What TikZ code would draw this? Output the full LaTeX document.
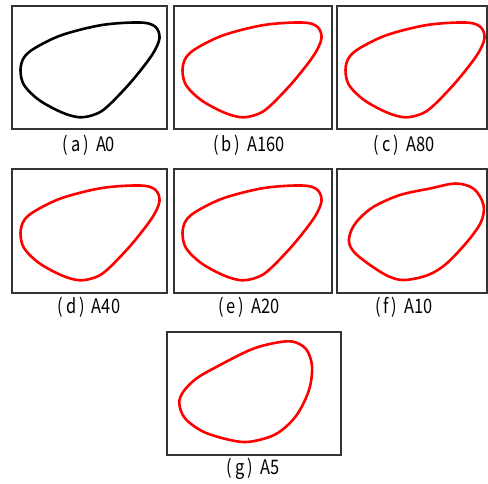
\documentclass[tikz,border=0pt]{standalone}
\usepackage{fontspec}
\newfontfamily\krfont{Noto Sans CJK KR}
\begin{document}
\begin{tikzpicture}[x=1pt,y=-1pt,
  panel/.style={draw=black!80,line width=1.1pt},
  curvea/.style={line width=2.6pt,line join=round},
  lbl/.style={font=\krfont\fontsize{20}{20}\selectfont,inner sep=0pt,anchor=center}]
\useasboundingbox (0,0) rectangle (488,483);
% boxes
\node[panel,minimum width=155pt,minimum height=123pt,inner sep=0pt] (pa) at (89.5,67.5) {};
\node[panel,minimum width=158pt,minimum height=123pt,inner sep=0pt] (pb) at (253,67.5) {};
\node[panel,minimum width=150pt,minimum height=123pt,inner sep=0pt] (pc) at (412,67.5) {};
\node[panel,minimum width=155pt,minimum height=124pt,inner sep=0pt] (pd) at (89.5,231) {};
\node[panel,minimum width=158pt,minimum height=124pt,inner sep=0pt] (pe) at (253,231) {};
\node[panel,minimum width=150pt,minimum height=124pt,inner sep=0pt] (pf) at (412,231) {};
\node[panel,minimum width=174pt,minimum height=123pt,inner sep=0pt] (pg) at (254,393.5) {};
% labels
\node[lbl] (la) at (89,145) {\scalebox{0.82}[1]{(\,a\,)\ \ A0}};
\node[lbl] (lb) at (249,145) {\scalebox{0.82}[1]{(\,b\,)\ \ A160}};
\node[lbl] (lc) at (404,145) {\scalebox{0.82}[1]{(\,c\,)\ \ A80}};
\node[lbl] (ld) at (89,307) {\scalebox{0.82}[1]{(\,d\,)\ \ A40}};
\node[lbl] (le) at (249,307) {\scalebox{0.82}[1]{(\,e\,)\ \ A20}};
\node[lbl] (lf) at (404,307) {\scalebox{0.82}[1]{(\,f\,)\ \ A10}};
\node[lbl] (lg) at (253,469) {\scalebox{0.82}[1]{(\,g\,)\ \ A5}};
% curves a-e
\def\shapeA{(20.5,70) (24,57.5) (35,48) (62,35) (102,25) (140,22.5) (155,26.5) (159.5,38) (152,55) (131,82) (108,106) (96,114) (80,117.3) (62,112.5) (39,100) (24,85)}
\draw[curvea,black] plot[smooth cycle,tension=0.55] coordinates {\shapeA};
\begin{scope}[shift={(162,0)}]
\draw[curvea,red] plot[smooth cycle,tension=0.55] coordinates {\shapeA};
\end{scope}
\begin{scope}[shift={(325,0)}]
\draw[curvea,red] plot[smooth cycle,tension=0.55] coordinates {\shapeA};
\end{scope}
\begin{scope}[shift={(0,163)}]
\draw[curvea,red] plot[smooth cycle,tension=0.55] coordinates {\shapeA};
\end{scope}
\begin{scope}[shift={(162,163)}]
\draw[curvea,red] plot[smooth cycle,tension=0.55] coordinates {\shapeA};
\end{scope}
% curve f
\draw[curvea,red] plot[smooth cycle,tension=0.55] coordinates {(349,241.5) (351.5,230) (359,219) (374,206.5) (400,195) (430,188.5) (456,183.5) (474,189) (483.5,205) (481,222) (467,242) (446,264) (428,275) (405,280) (389,276.5) (370,265) (354,252)};
% curve g
\draw[curvea,red] plot[smooth cycle,tension=0.55] coordinates {(179.3,403.3) (183.3,391.7) (196.7,378.3) (220,365) (250,350) (272,343.5) (292,341.5) (306,349) (312,366) (309,390) (296,416) (276,434) (250,441.7) (230,440) (203.3,431.7) (185,418.3)};
\end{tikzpicture}
\end{document}
